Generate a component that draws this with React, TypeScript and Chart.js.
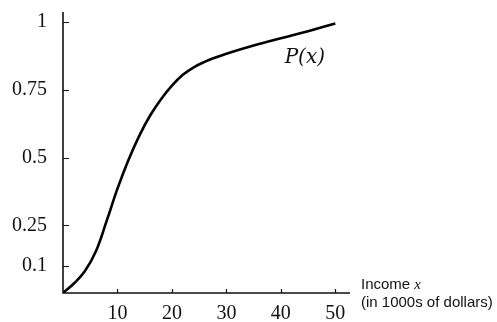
import React, { useEffect, useRef } from "react";
import { Chart, registerables } from "chart.js";

Chart.register(...registerables);

const incomeX = [0, 2, 4, 6, 8, 10, 12, 14, 16, 18, 20, 22, 24, 26, 28, 30, 35, 40, 45, 50];
const probP = [0, 0.035, 0.08, 0.152, 0.265, 0.385, 0.49, 0.58, 0.655, 0.715, 0.765, 0.805, 0.833, 0.853, 0.869, 0.883, 0.913, 0.94, 0.966, 0.995];
const xTicks = [10, 20, 30, 40, 50];
const yTicks = [0.1, 0.25, 0.5, 0.75, 1];
const curveLabel = "P(x)";
const axisLabel1 = "Income ";
const axisLabel1Var = "x";
const axisLabel2 = "(in 1000s of dollars)";

export default function App() {
  const ref = useRef<HTMLCanvasElement | null>(null);
  useEffect(() => {
    document.body.style.margin = "0";
    const canvas = ref.current;
    if (!canvas) return;
    const overlay = {
      id: "overlay",
      afterDraw(chart: any) {
        const ctx = chart.ctx;
        const xs = chart.scales.x;
        const ys = chart.scales.y;
        const area = chart.chartArea;
        ctx.save();
        ctx.strokeStyle = "#111";
        ctx.lineWidth = 1.6;
        ctx.beginPath();
        ctx.moveTo(area.left, area.top);
        ctx.lineTo(area.left, area.bottom);
        ctx.lineTo(area.right, area.bottom);
        ctx.stroke();
        ctx.lineWidth = 1.2;
        ctx.beginPath();
        for (const t of yTicks) {
          const py = Math.round(ys.getPixelForValue(t)) + 0.5;
          ctx.moveTo(area.left, py);
          ctx.lineTo(area.left + 6, py);
        }
        for (const t of xTicks) {
          const px = Math.round(xs.getPixelForValue(t)) + 0.5;
          ctx.moveTo(px, area.bottom);
          ctx.lineTo(px, area.bottom - 4);
        }
        ctx.stroke();
        ctx.fillStyle = "#111";
        ctx.textBaseline = "alphabetic";
        ctx.font = "italic 20px 'DejaVu Serif'";
        ctx.textAlign = "left";
        ctx.fillText(curveLabel, xs.getPixelForValue(40.7), ys.getPixelForValue(0.849));
        ctx.font = "15px 'Liberation Sans'";
        const lx = area.right + 11;
        ctx.fillText(axisLabel1, lx, area.bottom - 4);
        const w = ctx.measureText(axisLabel1).width;
        ctx.font = "italic 15px 'Liberation Serif'";
        ctx.fillText(axisLabel1Var, lx + w, area.bottom - 4);
        ctx.font = "15px 'Liberation Sans'";
        ctx.fillText(axisLabel2, lx, area.bottom + 14);
        ctx.restore();
      },
    };
    const chart = new Chart(canvas, {
      type: "line",
      data: {
        datasets: [
          {
            data: incomeX.map((x, i) => ({ x, y: probP[i] })),
            borderColor: "#000",
            borderWidth: 2.6,
            pointRadius: 0,
            tension: 0.4,
            fill: false,
          },
        ],
      },
      options: {
        responsive: false,
        animation: false,
        layout: { padding: { top: 12, right: 147, left: 0, bottom: 0 } },
        plugins: { legend: { display: false }, tooltip: { enabled: false } },
        scales: {
          x: {
            type: "linear",
            min: 0,
            max: 52.7,
            grid: { display: false, drawTicks: false },
            border: { display: false },
            afterBuildTicks: (s: any) => {
              s.ticks = xTicks.map((v) => ({ value: v }));
            },
            afterFit: (s: any) => {
              s.height = 29;
              s.paddingLeft = 0;
              s.paddingRight = 0;
            },
            ticks: {
              color: "#111",
              padding: 9,
              maxRotation: 0,
              font: { family: "'Liberation Serif'", size: 20 },
              callback: (v: any) => String(v),
            },
          },
          y: {
            type: "linear",
            min: 0,
            max: 1.037,
            grid: { display: false, drawTicks: false },
            border: { display: false },
            afterBuildTicks: (s: any) => {
              s.ticks = yTicks.map((v) => ({ value: v }));
            },
            afterFit: (s: any) => {
              s.width = 63;
              s.paddingTop = 0;
              s.paddingBottom = 0;
            },
            ticks: {
              color: "#111",
              padding: 16,
              font: { family: "'Liberation Serif'", size: 20 },
              callback: (v: any) => String(v),
            },
          },
        },
      },
      plugins: [overlay],
    });
    return () => chart.destroy();
  }, []);
  return (
    <div style={{ width: 497, height: 322, background: "#fff" }}>
      <canvas ref={ref} width={497} height={322} style={{ display: "block", width: 497, height: 322 }} />
    </div>
  );
}
